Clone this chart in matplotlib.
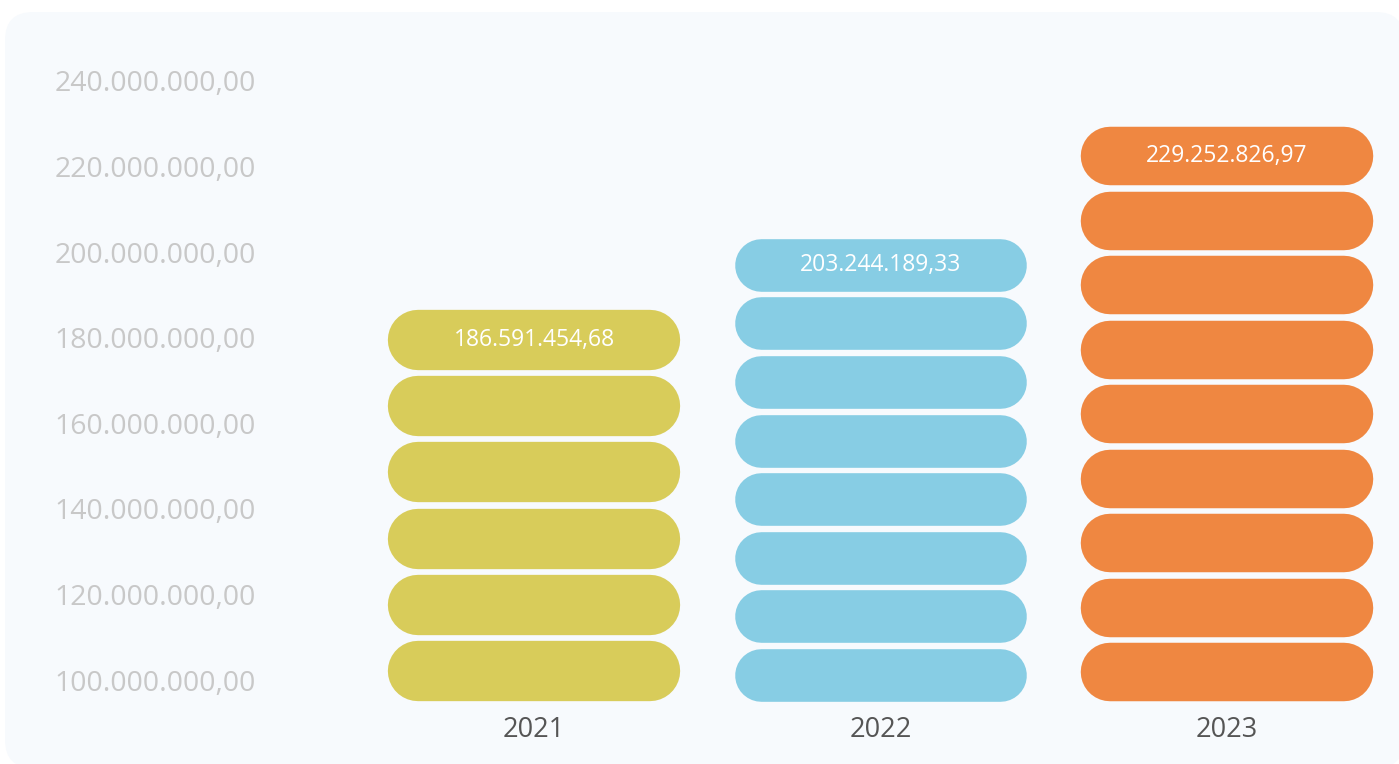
import matplotlib.pyplot as plt
from matplotlib.patches import FancyBboxPatch

plt.rcParams['font.family'] = ['Open Sans', 'DejaVu Sans']

years = ['2021', '2022', '2023']
totals = [186591454.68, 203244189.33, 229252826.97]
pill_counts = [6, 8, 9]
colors = ['#d8cc5a', '#87cde4', '#ef8741']
tick_values = [100e6, 120e6, 140e6, 160e6, 180e6, 200e6, 220e6, 240e6]


def fmt_br(v):
    # 1.234.567,89 style
    s = f'{v:,.2f}'
    return s.replace(',', 'X').replace('.', ',').replace('X', '.')


W, H = 1399, 764
fig = plt.figure(figsize=(W / 100, H / 100), dpi=100)
fig.patch.set_facecolor('white')

# light rounded panel behind everything
panel = FancyBboxPatch((5 / W, -4 / H), 1.0, (H - 12 + 4) / H,
                       boxstyle=f'round,pad=0,rounding_size={28 / W}',
                       mutation_aspect=W / H,
                       transform=fig.transFigure,
                       facecolor='#f7fafd', edgecolor='none', zorder=-10)
fig.patches.append(panel)

ax = fig.add_axes([270 / W, 59 / H, (W - 270) / W, 705 / H])
ax.set_facecolor('none')
ax.set_zorder(1)

# values in millions on the y axis
ax.set_ylim(94.16, 258.93)
ax.set_xlim(-0.762, 2.496)
for s in ax.spines.values():
    s.set_visible(False)

ax.set_yticks([t / 1e6 for t in tick_values])
ax.set_yticklabels([fmt_br(t) for t in tick_values])
ax.set_xticks(range(len(years)))
ax.set_xticklabels(years)
ax.tick_params(axis='y', length=0, pad=10, labelsize=20.5, labelcolor='#c8c8c8')
ax.tick_params(axis='x', length=0, pad=8, labelsize=19.5, labelcolor='#555555')

# pixel scale of the data units
x0, x1 = ax.get_xlim()
y0, y1 = ax.get_ylim()
sx = ax.bbox.width / (x1 - x0)
sy = ax.bbox.height / (y1 - y0)

base = 95.0
gap = 6 / sy
pill_w = 292 / sx

# each pill is a thick line with round caps
for i, (total, n, c) in enumerate(zip(totals, pill_counts, colors)):
    top = total / 1e6
    h = (top - base - (n - 1) * gap) / n
    r = h * sy / 2 / sx
    lw = h * sy * 72 / 100
    for k in range(n):
        yc = base + k * (h + gap) + h / 2
        ax.plot([i - pill_w / 2 + r, i + pill_w / 2 - r], [yc, yc],
                color=c, lw=lw, solid_capstyle='round', zorder=2)
    ax.text(i, top - h / 2, fmt_br(total), ha='center', va='center',
            color='white', fontsize=16.5, zorder=3)

fig.savefig('out.png', dpi=100)
